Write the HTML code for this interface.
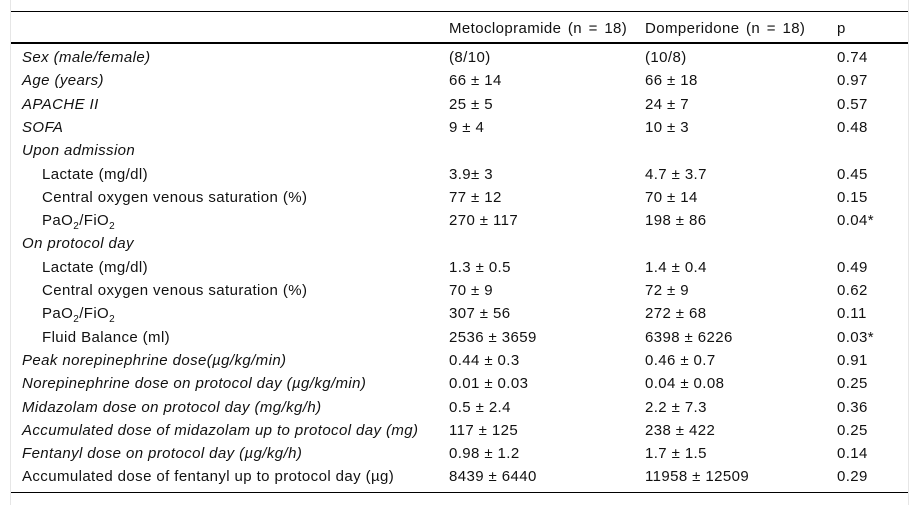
<!DOCTYPE html>
<html><head><meta charset="utf-8"><style>
body{margin:0;width:919px;height:505px;background:#fff;position:relative;overflow:hidden;font-family:"Liberation Sans",Arial,sans-serif;font-size:15px;letter-spacing:0.4px;color:#111}
.b{position:absolute;left:10px;top:0;width:1px;height:505px;background:#e6e6e6}
.r{position:absolute;right:10px;top:0;width:1px;height:505px;background:#e6e6e6}
.h{position:absolute;left:11px;width:897px;background:#000}
.row{position:absolute;left:0;width:919px;height:20px;line-height:20px;white-space:nowrap;margin-top:2px}
.row span{position:absolute;top:0}
.c1{left:22px}.c1.in{left:42px}.c2{left:449px}.c3{left:645px}.c4{left:837px}
i{font-style:italic}
sub{font-size:10px;vertical-align:-4px;line-height:0}
.hd{word-spacing:2px}
</style></head><body>
<div class="b"></div><div class="r"></div>
<div class="h" style="top:11px;height:1px"></div>
<div class="h" style="top:42px;height:2px"></div>
<div class="h" style="top:492px;height:1px"></div>
<div class="row hd" style="top:17px"><span class="c2">Metoclopramide (n = 18)</span><span class="c3">Domperidone (n = 18)</span><span class="c4">p</span></div>
<div class="row" style="top:46px"><span class="c1"><i>Sex (male/female)</i></span><span class="c2">(8/10)</span><span class="c3">(10/8)</span><span class="c4">0.74</span></div>
<div class="row" style="top:69.3px"><span class="c1"><i>Age (years)</i></span><span class="c2">66 ± 14</span><span class="c3">66 ± 18</span><span class="c4">0.97</span></div>
<div class="row" style="top:92.6px"><span class="c1"><i>APACHE II</i></span><span class="c2">25 ± 5</span><span class="c3">24 ± 7</span><span class="c4">0.57</span></div>
<div class="row" style="top:115.9px"><span class="c1"><i>SOFA</i></span><span class="c2">9 ± 4</span><span class="c3">10 ± 3</span><span class="c4">0.48</span></div>
<div class="row" style="top:139.2px"><span class="c1"><i>Upon admission</i></span></div>
<div class="row" style="top:162.5px"><span class="c1 in">Lactate (mg/dl)</span><span class="c2">3.9± 3</span><span class="c3">4.7 ± 3.7</span><span class="c4">0.45</span></div>
<div class="row" style="top:185.8px"><span class="c1 in">Central oxygen venous saturation (%)</span><span class="c2">77 ± 12</span><span class="c3">70 ± 14</span><span class="c4">0.15</span></div>
<div class="row" style="top:209.1px"><span class="c1 in">PaO<sub>2</sub>/FiO<sub>2</sub></span><span class="c2">270 ± 117</span><span class="c3">198 ± 86</span><span class="c4">0.04*</span></div>
<div class="row" style="top:232.4px"><span class="c1"><i>On protocol day</i></span></div>
<div class="row" style="top:255.7px"><span class="c1 in">Lactate (mg/dl)</span><span class="c2">1.3 ± 0.5</span><span class="c3">1.4 ± 0.4</span><span class="c4">0.49</span></div>
<div class="row" style="top:279px"><span class="c1 in">Central oxygen venous saturation (%)</span><span class="c2">70 ± 9</span><span class="c3">72 ± 9</span><span class="c4">0.62</span></div>
<div class="row" style="top:302.3px"><span class="c1 in">PaO<sub>2</sub>/FiO<sub>2</sub></span><span class="c2">307 ± 56</span><span class="c3">272 ± 68</span><span class="c4">0.11</span></div>
<div class="row" style="top:325.6px"><span class="c1 in">Fluid Balance (ml)</span><span class="c2">2536 ± 3659</span><span class="c3">6398 ± 6226</span><span class="c4">0.03*</span></div>
<div class="row" style="top:348.9px"><span class="c1"><i>Peak norepinephrine dose(µg/kg/min)</i></span><span class="c2">0.44 ± 0.3</span><span class="c3">0.46 ± 0.7</span><span class="c4">0.91</span></div>
<div class="row" style="top:372.2px"><span class="c1"><i>Norepinephrine dose on protocol day (µg/kg/min)</i></span><span class="c2">0.01 ± 0.03</span><span class="c3">0.04 ± 0.08</span><span class="c4">0.25</span></div>
<div class="row" style="top:395.5px"><span class="c1"><i>Midazolam dose on protocol day (mg/kg/h)</i></span><span class="c2">0.5 ± 2.4</span><span class="c3">2.2 ± 7.3</span><span class="c4">0.36</span></div>
<div class="row" style="top:418.8px"><span class="c1"><i>Accumulated dose of midazolam up to protocol day (mg)</i></span><span class="c2">117 ± 125</span><span class="c3">238 ± 422</span><span class="c4">0.25</span></div>
<div class="row" style="top:442.1px"><span class="c1"><i>Fentanyl dose on protocol day (µg/kg/h)</i></span><span class="c2">0.98 ± 1.2</span><span class="c3">1.7 ± 1.5</span><span class="c4">0.14</span></div>
<div class="row" style="top:465.4px"><span class="c1">Accumulated dose of fentanyl up to protocol day (µg)</span><span class="c2">8439 ± 6440</span><span class="c3">11958 ± 12509</span><span class="c4">0.29</span></div>
</body></html>
